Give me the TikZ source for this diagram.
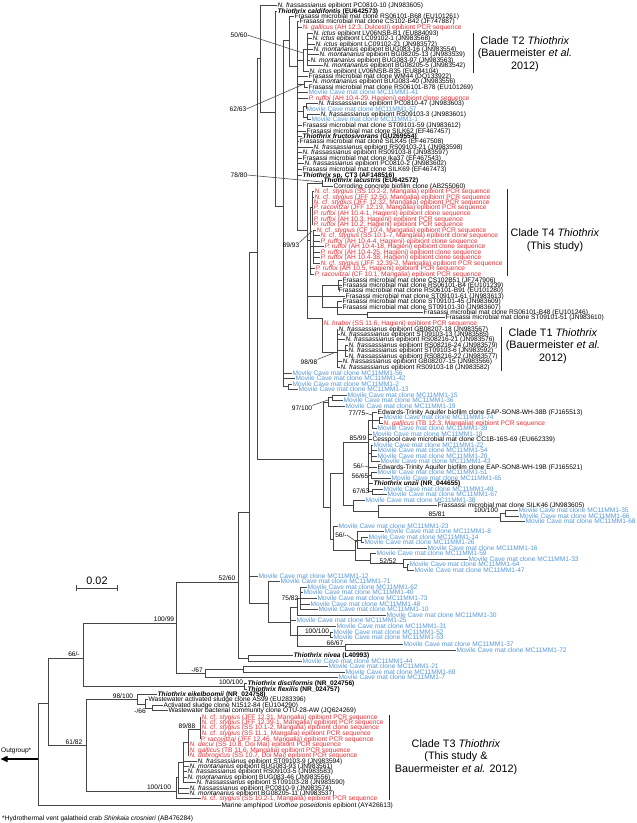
\documentclass[tikz,border=0pt]{standalone}
\usepackage{fontspec}
\setmainfont{Liberation Sans}
\usetikzlibrary{arrows.meta}
\definecolor{tred}{RGB}{232,45,52}
\definecolor{tblue}{RGB}{85,150,215}
\definecolor{lc}{RGB}{70,70,70}
\newcommand\lfont{\fontsize{6.6}{7}\selectfont}
\newcommand\cfont{\fontsize{10.8}{12.6}\selectfont}
\newcommand\Nfra{\textit{N. frassassianus}}
\newcommand\Nict{\textit{N. ictus}}
\newcommand\Nmon{\textit{N. montanarius}}
\newcommand\Ncs{\textit{N.} cf. \textit{stygius}}
\newcommand\Pru{\textit{P. ruffoi}}
\newcommand\Prac{\textit{P. racovitzai}}
\newcommand\Ngal{\textit{N. gallicus}}
\newcommand\FMC{Frasassi microbial mat clone}
\newcommand\MC{Movile Cave mat clone MC11MM1-}
\tikzset{
  br/.style={draw=lc, line width=0.55pt},
  lf/.style={anchor=west, inner xsep=0.5pt, inner ysep=0pt, font=\lfont, text height=4.7pt, text depth=0pt},
  bs/.style={inner sep=0pt, font=\lfont, text height=4.7pt, text depth=0pt},
  rl/.style={text=tred},
  bl/.style={text=tblue},
  cl/.style={font=\cfont, align=center, inner sep=0pt},
  cbar/.style={draw=black!85, line width=1pt}
}
\newcommand\Lf[6][]{\node[lf,#1] (#2) at (#4,#5) {#6};\draw[br] (#3,#5) -- (#2.west);}
\newcommand\Vt[3]{\draw[br] (#1,#2) -- (#1,#3);}
\newcommand\Hz[3]{\draw[br] (#1,#3) -- (#2,#3);}
\begin{document}
\begin{tikzpicture}[x=1pt,y=-1pt]
\useasboundingbox (0,0) rectangle (637,823);
% ---------- backbone ----------
\coordinate (root) at (38,759);
\coordinate (og) at (0.5,759);
\draw[draw=black, line width=1.4pt, -{Triangle[length=7pt,width=6pt]}] (root) -- (og);
\node[bs, anchor=west] (ogl) at (1,750) {Outgroup*};
\Vt{38}{703}{805}
\Hz{38}{48}{703}
\Vt{48}{658}{745}
\Hz{48}{83}{658}
\Vt{83}{623}{686}
\Hz{83}{176}{623}
\Vt{176}{582}{673}
\Hz{176}{238}{582}
\Vt{238}{512}{658}
\Hz{238}{249}{512}
\Vt{249}{252}{603}
\Hz{249}{257}{252}
\Vt{257}{58}{459}
\Hz{257}{260}{58}
\Vt{260}{5}{112}
\Hz{260}{275}{112}
\Vt{275}{11}{206}
\Hz{275}{283}{206}
\Vt{283}{40}{386}
\Hz{283}{289}{40}
\Vt{289}{16}{66}
\Hz{289}{297}{66}
\Vt{297}{21}{230}
% T2
\Hz{297}{303}{60}
\Vt{303}{49}{71}
\Hz{303}{307}{49}
\Vt{307}{33}{65}
\Hz{297}{304}{84}
\Vt{304}{81}{87}
\Hz{297}{303}{111}
\Vt{303}{106}{117}
\Hz{303}{306}{106}
\Vt{306}{103}{109}
\Hz{303}{307}{117}
\Vt{307}{114}{119}
% M
\Hz{297}{307}{230}
\Vt{307}{183}{318}
\Hz{307}{322}{183}
\Vt{322}{180}{186}
\Hz{307}{310}{240}
\Vt{310}{207}{274}
\Hz{310}{312}{207}
\Vt{312}{191}{224}
\Hz{310}{313}{246}
\Vt{313}{230}{263}
\Hz{307}{322}{296}
\Vt{322}{285}{307}
\Hz{322}{338}{285}
\Vt{338}{280}{290}
\Hz{322}{337}{307}
\Vt{337}{301}{314}
\Hz{337}{367}{314}
\Vt{367}{312}{317}
\Hz{307}{322}{318}
\Vt{322}{318}{352}
\Hz{322}{337}{352}
\Vt{337}{329}{367}
\Hz{337}{345}{350}
\Vt{345}{345}{356}
\Hz{283}{288}{386}
\Vt{288}{384}{389}
% big Movile clade
\Hz{257}{323}{459}
\Vt{323}{402}{507}
\Hz{323}{328}{402}
\Vt{328}{397}{406}
\Hz{328}{332}{397}
\Vt{332}{395}{400}
\Hz{323}{330}{507}
\Vt{330}{473}{539}
\Hz{330}{343}{473}
\Vt{343}{442}{505}
\Hz{343}{368}{442}
\Vt{368}{420}{491}
\Hz{368}{372}{420}
\Vt{372}{412}{428}
\Hz{372}{379}{420}
\Vt{379}{417}{423}
\Hz{368}{371}{453}
\Vt{371}{445}{461}
\Hz{368}{371}{475}
\Vt{371}{472}{478}
\Hz{368}{372}{491}
\Vt{372}{489}{494}
\Hz{343}{353}{505}
\Vt{353}{500}{511}
\Hz{353}{378}{511}
\Vt{378}{505}{517}
\Hz{378}{500}{517}
\Vt{500}{513}{521}
\Hz{500}{505}{513}
\Vt{505}{510}{516}
\Hz{330}{333}{539}
\Vt{333}{526}{550}
\Hz{333}{355}{550}
\Vt{355}{540}{560}
\Hz{355}{357}{540}
\Vt{357}{531}{548}
\Hz{357}{361}{540}
\Vt{361}{537}{542}
\Hz{355}{370}{560}
\Vt{370}{553}{563}
\Hz{370}{403}{563}
\Vt{403}{559}{567}
\Hz{403}{407}{567}
\Vt{407}{564}{570}
% W clade
\Hz{249}{268}{603}
\Vt{268}{581}{622}
\Hz{268}{290}{622}
\Vt{290}{607}{635}
\Hz{290}{297}{607}
\Vt{297}{598}{615}
\Hz{297}{300}{598}
\Vt{300}{587}{609}
\Hz{290}{330}{635}
\Vt{297}{626}{646}
\Vt{330}{632}{637}
\Hz{297}{345}{646}
\Vt{345}{644}{650}
\Hz{238}{248}{658}
\Vt{248}{655}{661}
\Hz{176}{205}{673}
\Vt{205}{669}{678}
\Hz{205}{243}{669}
\Vt{243}{666}{672}
\Hz{83}{244}{686}
\Vt{244}{683}{689}
% 61/82 clade
\Hz{48}{86}{745}
\Vt{86}{699}{791}
\Hz{86}{137}{699}
\Vt{137}{694}{704}
\Hz{137}{145}{704}
\Vt{145}{699}{708}
\Hz{145}{152}{708}
\Vt{152}{705}{710}
\Hz{86}{176}{791}
\Vt{176}{777}{798.5}
\Hz{176}{178}{777}
\Vt{178}{762}{793}
\Hz{178}{183}{762}
\Vt{183}{742}{782}
\Hz{183}{188}{742}
\Vt{188}{729}{755}
\Hz{188}{200}{729}
\Vt{200}{717}{739}
% ---------- leaves ----------
\Lf{l1}{260}{277}{5}{\Nfra{} epibiont PC0810-10 (JN983605)}
\Lf{l2}{275}{277}{11}{\textbf{\textit{Thiothrix caldifontis} (EU642573)}}
\Lf{l3}{289}{294}{16}{\FMC{} RS06101-B68 (EU101261)}
\Lf{l4}{297}{299}{21}{\FMC{} CS102-B42 (JF747887)}
\Lf[rl]{l5}{297}{302}{27}{\Ngal{} (AH 12.3, Dulcesti) epibiont PCR sequence}
\Lf{l6}{307}{313}{33}{\Nict{} epibiont LV06NSB-B1 (EU884093)}
\Lf{l7}{307}{312}{38}{\Nict{} epibiont LC09102-1 (JN983568)}
\Lf{l8}{307}{315}{44}{\Nict{} epibiont LC09102-21 (JN983572)}
\Lf{l9}{307}{313}{49}{\Nmon{} epibiont BUG083-16 (JN983554)}
\Lf{l10}{307}{319}{54}{\Nmon{} epibiont BG08205-13 (JN983539)}
\Lf{l11}{307}{310}{60}{\Nmon{} epibiont BUG083-97 (JN983563)}
\Lf{l12}{307}{323}{65}{\Nmon{} epibiont BG08205-5 (JN983542)}
\Lf{l13}{303}{309}{71}{\Nict{} epibiont LV06NSB-B35 (EU884104)}
\Lf{l14}{297}{308}{76}{\FMC{} WM44 (DQ133922)}
\Lf{l15}{304}{312}{81}{\Nmon{} epibiont BUG083-40 (JN983556)}
\Lf{l16}{304}{308}{87}{\FMC{} RS06101-B78 (EU101269)}
\Lf[bl]{l17}{297}{308}{92}{\MC41}
\Lf[rl]{l18}{297}{308}{98}{\Pru{} (AH 10.4-29, Hagieni) epibiont clone sequence}
\Lf{l19}{306}{318}{103}{\Nfra{} epibiont PC0810-47 (JN983603)}
\Lf[bl]{l20}{306}{306}{109}{\MC57}
\Lf{l21}{307}{320}{114}{\Nfra{} epibiont RS09103-3 (JN983601)}
\Lf[bl]{l22}{307}{311}{119}{\MC1}
\Lf{l23}{297}{302}{125}{\FMC{} ST09101-59 (JN983612)}
\Lf{l24}{297}{306}{131}{\FMC{} SILK62 (EF467457)}
\Lf{l25}{297}{302}{136}{\textbf{\textit{Thiothrix fructosivorans} (GU269554)}}
\Lf{l26}{297}{299}{141}{\FMC{} SILK45 (EF467508)}
\Lf{l27}{297}{313}{147}{\Nfra{} epibiont RS09103-21 (JN983598)}
\Lf{l28}{297}{302}{152}{\Nfra{} epibiont RS09103-8 (JN983597)}
\Lf{l29}{297}{302}{158}{\FMC{} Ika37 (EF467543)}
\Lf{l30}{297}{304}{163}{\Nfra{} epibiont PC0810-2 (JN983602)}
\Lf{l31}{297}{302}{169}{\FMC{} SILK69 (EF467473)}
\Lf{l32}{297}{302}{175}{\textbf{\textit{Thiothrix} sp. CT3 (AF148516)}}
\Lf{l33}{322}{323}{180}{\textbf{\textit{Thiothrix lacustris} (EU642572)}}
\Lf{l34}{322}{333}{186}{Corroding concrete biofilm clone (AB255060)}
\Lf[rl]{l35}{312}{314}{191}{\Ncs{} (SS 10.2-2, Mangalia) epibiont PCR sequence}
\Lf[rl]{l36}{312}{314}{197}{\Ncs{} (JFF 12.50, Mangalia) epibiont PCR sequence}
\Lf[rl]{l37}{312}{313}{202}{\Ncs{} (JFF 12.32, Mangalia) epibiont PCR sequence}
\Lf[rl]{l38}{312}{313}{207}{\Prac{} (JFF 12.19, Mangalia) epibiont PCR sequence}
\Lf[rl]{l39}{312}{313}{213}{\Pru{} (AH 10.4-1, Hagieni) epibiont clone sequence}
\Lf[rl]{l40}{312}{313}{219}{\Pru{} (AH 10.3, Hagieni) epibiont PCR sequence}
\Lf[rl]{l41}{312}{313}{224}{\Pru{} (AH 10.2, Hagieni) epibiont PCR sequence}
\Lf[rl]{l42}{313}{316}{230}{\Ncs{} (CF 10.4, Mangalia) epibiont PCR sequence}
\Lf[rl]{l43}{313}{320}{235}{\Ncs{} (SS 10.1-7, Mangalia) epibiont clone sequence}
\Lf[rl]{l44}{313}{320}{241}{\Pru{} (AH 10.4-4, Hagieni) epibiont clone sequence}
\Lf[rl]{l45}{313}{324}{246}{\Pru{} (AH 10.4-18, Hagieni) epibiont clone sequence}
\Lf[rl]{l46}{313}{320}{252}{\Pru{} (AH 10.4-25, Hagieni) epibiont clone sequence}
\Lf[rl]{l47}{313}{320}{257}{\Pru{} (AH 10.4-38, Hagieni) epibiont clone sequence}
\Lf[rl]{l48}{313}{320}{263}{\Ncs{} (JFF 12.39-2, Mangalia) epibiont PCR sequence}
\Lf[rl]{l49}{310}{315}{268}{\Pru{} (AH 10.5, Hagieni) epibiont PCR sequence}
\Lf[rl]{l50}{310}{314}{274}{\Prac{} (CF 10.1, Mangalia) epibiont PCR sequence}
\Lf{l51}{338}{342}{280}{\FMC{} CS102B51 (JF747906)}
\Lf{l52}{338}{342}{285}{\FMC{} RS06101-B4 (EU101239)}
\Lf{l53}{338}{338}{290}{\FMC{} RS06101-B91 (EU101280)}
\Lf{l54}{322}{345}{296}{\FMC{} ST09101-61 (JN983613)}
\Lf{l55}{337}{342}{301}{\FMC{} ST09101-45 (JN983609)}
\Lf{l56}{337}{342}{307}{\FMC{} ST09101-30 (JN983607)}
\Lf{l57}{367}{423}{312}{\FMC{} RS06101-B48 (EU101246)}
\Lf{l58}{367}{445}{317}{\FMC{} ST09101-51 (JN983610)}
\Lf[rl]{l59}{322}{323}{323}{\textit{N. hrabei} (SS 11.6, Hagieni) epibiont PCR sequence}
\Lf{l60}{337}{338}{329}{\Nfra{} epibiont GB08207-18 (JN983567)}
\Lf{l61}{337}{340}{334}{\Nfra{} epibiont ST09103-13 (JN983585)}
\Lf{l62}{337}{345}{339}{\Nfra{} epibiont RS08216-21 (JN983576)}
\Lf{l63}{345}{348}{345}{\Nfra{} epibiont RS08216-24 (JN983579)}
\Lf{l64}{345}{348}{350}{\Nfra{} epibiont ST09103-6 (JN983592)}
\Lf{l65}{345}{348}{356}{\Nfra{} epibiont RS08216-22 (JN983577)}
\Lf{l66}{337}{342}{361}{\Nfra{} epibiont GB08207-15 (JN983566)}
\Lf{l67}{337}{340}{367}{\Nfra{} epibiont RS09103-18 (JN983582)}
\Lf[bl]{l68}{283}{292}{373}{\MC56}
\Lf[bl]{l69}{283}{295}{378}{\MC42}
\Lf[bl]{l70}{288}{292}{384}{\MC2}
\Lf[bl]{l71}{288}{298}{389}{\MC13}
\Lf[bl]{l72}{332}{347}{395}{\MC15}
\Lf[bl]{l73}{332}{343}{400}{\MC36}
\Lf[bl]{l74}{328}{345}{406}{\MC19}
\Lf{l75}{372}{377}{412}{Edwards-Trinity Aquifer biofilm clone EAP-SON8-WH-38B (FJ165513)}
\Lf[bl]{l76}{379}{383}{417}{\MC74}
\Lf[rl]{l77}{379}{383}{423}{\Ngal{} (TB 12.3, Mangalia) epibiont PCR sequence}
\Lf[bl]{l78}{372}{377}{428}{\MC39}
\Lf[bl]{l79}{368}{372}{434}{\MC18}
\Lf{l80}{368}{372}{439}{Cesspool cave microbial mat clone CC1B-16S-69 (EU662339)}
\Lf[bl]{l81}{371}{373}{445}{\MC22}
\Lf[bl]{l82}{371}{377}{450}{\MC54}
\Lf[bl]{l83}{371}{377}{456}{\MC20}
\Lf[bl]{l84}{371}{380}{461}{\MC43}
\Lf{l85}{368}{377}{467}{Edwards-Trinity Aquifer biofilm clone EAP-SON8-WH-19B (FJ165521)}
\Lf[bl]{l86}{371}{377}{472}{\MC51}
\Lf[bl]{l87}{371}{391}{478}{\MC65}
\Lf{l88}{368}{373}{483}{\textbf{\textit{Thiothrix unzii} (NR\_044655)}}
\Lf[bl]{l89}{372}{383}{489}{\MC49}
\Lf[bl]{l90}{372}{387}{494}{\MC67}
\Lf[bl]{l91}{353}{365}{500}{\MC38}
\Lf{l92}{378}{437}{505}{Frassassi microbial mat clone SILK46 (JN983605)}
\Lf[bl]{l93}{505}{518}{510}{\MC35}
\Lf[bl]{l94}{505}{519}{516}{\MC66}
\Lf[bl]{l95}{500}{525}{521}{\MC68}
\Lf[bl]{l96}{333}{338}{526}{\MC23}
\Lf[bl]{l97}{357}{384}{531}{\MC8}
\Lf[bl]{l98}{361}{368}{537}{\MC14}
\Lf[bl]{l99}{361}{364}{542}{\MC26}
\Lf[bl]{l100}{357}{427}{548}{\MC16}
\Lf[bl]{l101}{370}{376}{553}{\MC59}
\Lf[bl]{l102}{403}{468}{559}{\MC33}
\Lf[bl]{l103}{407}{409}{564}{\MC64}
\Lf[bl]{l104}{407}{414}{570}{\MC47}
\Lf[bl]{l105}{249}{258}{576}{\MC12}
\Lf[bl]{l106}{268}{280}{581}{\MC71}
\Lf[bl]{l107}{300}{307}{587}{\MC62}
\Lf[bl]{l108}{300}{303}{592}{\MC40}
\Lf[bl]{l109}{300}{317}{598}{\MC73}
\Lf[bl]{l110}{300}{310}{604}{\MC48}
\Lf[bl]{l111}{300}{318}{609}{\MC10}
\Lf[bl]{l112}{297}{386}{615}{\MC30}
\Lf[bl]{l113}{290}{296}{620}{\MC25}
\Lf[bl]{l114}{297}{336}{626}{\MC31}
\Lf[bl]{l115}{330}{333}{632}{\MC52}
\Lf[bl]{l116}{330}{333}{637}{\MC53}
\Lf[bl]{l117}{345}{403}{644}{\MC37}
\Lf[bl]{l118}{345}{456}{650}{\MC72}
\Lf{l119}{248}{293}{655}{\textbf{\textit{Thiothrix nivea} (L40993)}}
\Lf[bl]{l120}{248}{302}{661}{\MC44}
\Lf[bl]{l121}{243}{328}{666}{\MC21}
\Lf[bl]{l122}{243}{345}{672}{\MC69}
\Lf[bl]{l123}{205}{338}{677}{\MC7}
\Lf{l124}{244}{247}{683}{\textbf{\textit{Thiothrix disciformis} (NR\_024756)}}
\Lf{l125}{244}{247}{689}{\textbf{\textit{Thiothrix flexilis} (NR\_024757)}}
\Lf{l126}{137}{157}{694}{\textbf{\textit{Thiothrix eikelboomii} (NR\_024758)}}
\Lf{l127}{145}{148}{699}{Wastewater activated sludge clone AS99 (EU283396)}
\Lf{l128}{152}{163}{705}{Activated sludge clone N1512-84 (EU104290)}
\Lf{l129}{152}{168}{710}{Wastewater bacterial community clone OTU-28-AW (JQ624269)}
\Lf[rl]{l130}{200}{201}{717}{\Ncs{} (JFF 12.31, Mangalia) epibiont PCR sequence}
\Lf[rl]{l131}{200}{201}{722}{\Ncs{} (JFF 12.39-1, Mangalia) epibiont PCR sequence}
\Lf[rl]{l132}{200}{201}{727}{\Ncs{} (SS 10.1-2, Mangalia) epibiont clone sequence}
\Lf[rl]{l133}{200}{201}{733}{\Ncs{} (SS 11.1, Mangalia) epibiont PCR sequence}
\Lf[rl]{l134}{200}{200}{739}{\Prac{} (JFF 12.46, Mangalia) epibiont PCR sequence}
\Lf[rl]{l135}{188}{189}{744}{\textit{N. decui} (SS 10.8, Doi Mai) epibiont PCR sequence}
\Lf[rl]{l136}{188}{189}{750}{\Ngal{} (TB 11.6, Mangalia) epibiont PCR sequence}
\Lf[rl]{l137}{188}{189}{755}{\textit{N. dobrogicus} (SS 10.7, Doi Mai) epibiont PCR sequence}
\Lf{l138}{183}{197}{761}{\Nfra{} epibiont ST09103-9 (JN983594)}
\Lf{l139}{183}{189}{766}{\Nmon{} epibiont BUG083-93 (JN983561)}
\Lf{l140}{183}{187}{771}{\Nfra{} epibiont RS09103-5 (JN983583)}
\Lf{l141}{183}{187}{777}{\Nmon{} epibiont BUG083-46 (JN983556)}
\Lf{l142}{183}{196}{782}{\Nfra{} epibiont ST09103-28 (JN983590)}
\Lf{l143}{178}{189}{788}{\Nfra{} epibiont PC0810-9 (JN983574)}
\Lf{l144}{178}{189}{793}{\Nmon{} epibiont BG08205-11 (JN983537)}
\Lf[rl]{l145}{176}{201}{798.5}{\Ncs{} (SS 10.2-1, Mangalia) epibiont PCR sequence}
\Lf{l146}{38}{221}{805}{Marine amphipod \textit{Urothoe poseidonis} epibiont (AY426613)}
% ---------- support values ----------
\node[bs] (b1) at (239,35) {50/60};  \draw[br] (b1.east) -- (303,53);
\node[bs] (b2) at (238,109) {62/63}; \draw[br] (b2.east) -- (304,84);
\node[bs] (b3) at (239,175) {78/80}; \draw[br] (b3.east) -- (322,182);
\node[bs] (b4) at (291,245) {89/93}; \draw[br] (b4.north east) -- (312,231);
\node[bs] (b5) at (309,362) {98/98}; \draw[br] (b5.north east) -- (336,352);
\node[bs] (b6) at (302,408) {97/100}; \draw[br] (b6.north east) -- (328,400);
\node[bs] (b7) at (357,413) {77/75}; \draw[br] (b7.east) -- (372,415);
\node[bs] (b8) at (358,438) {85/99};
\node[bs] (b9) at (359,466) {56/-}; \draw[br] (b9.east) -- (368,467);
\node[bs] (b10) at (360,476) {56/65}; \draw[br] (b10.east) -- (371,475);
\node[bs] (b11) at (361,491) {67/63}; \draw[br] (b11.east) -- (372,491);
\node[bs] (b12) at (437,514) {85/81};
\node[bs] (b13) at (486,510) {100/100};
\node[bs] (b14) at (341,535) {56/-}; \draw[br] (b14.east) -- (357,542);
\node[bs] (b15) at (388,561) {52/52};
\node[bs] (b16) at (227,578) {52/60};
\node[bs] (b17) at (290,598) {75/82};
\node[bs] (b18) at (164,619) {100/99};
\node[bs] (b19) at (317,631) {100/100};
\node[bs] (b20) at (335,643) {66/67};
\node[bs] (b21) at (197,670) {-/67};
\node[bs] (b22) at (231,682) {100/100};
\node[bs] (b23) at (123,696) {98/100};
\node[bs] (b24) at (140,711) {-/66};
\node[bs] (b25) at (187,726) {89/88};
\node[bs] (b26) at (159,787) {100/100};
\node[bs] (b27) at (74,654) {66/-};
\node[bs] (b28) at (74,742) {61/82};
% ---------- scale bar ----------
\coordinate (s1) at (76,588); \coordinate (s2) at (117,588);
\draw[br] (s1) -- (s2);
\draw[br] (76,585) -- (76,591);
\draw[br] (117,585) -- (117,591);
\node[cl] (scl) at (97,581) {0.02};
% ---------- clade labels ----------
\draw[cbar] (473,33) -- (473,73);
\node[cl] (c2) at (525,54) {Clade T2 \textit{Thiothrix}\\(Bauermeister \textit{et al.}\\2012)};
\draw[cbar] (507,189) -- (507,276);
\node[cl] (c4) at (555,240) {Clade T4 \textit{Thiothrix}\\(This study)};
\draw[cbar] (501,327) -- (501,371);
\node[cl] (c1) at (553,346) {Clade T1 \textit{Thiothrix}\\(Bauermeister \textit{et al.}\\2012)};
\draw[cbar] (389,715) -- (389,800);
\node[cl] (c3) at (456,757) {Clade T3 \textit{Thiothrix}\\(This study \&\\Bauermeister \textit{et al.} 2012)};
% ---------- footnote ----------
\node[bs, anchor=west] (fn) at (2,818) {*Hydrothermal vent galatheid crab \textit{Shinkaia crosnieri} (AB476284)};
\end{tikzpicture}
\end{document}
